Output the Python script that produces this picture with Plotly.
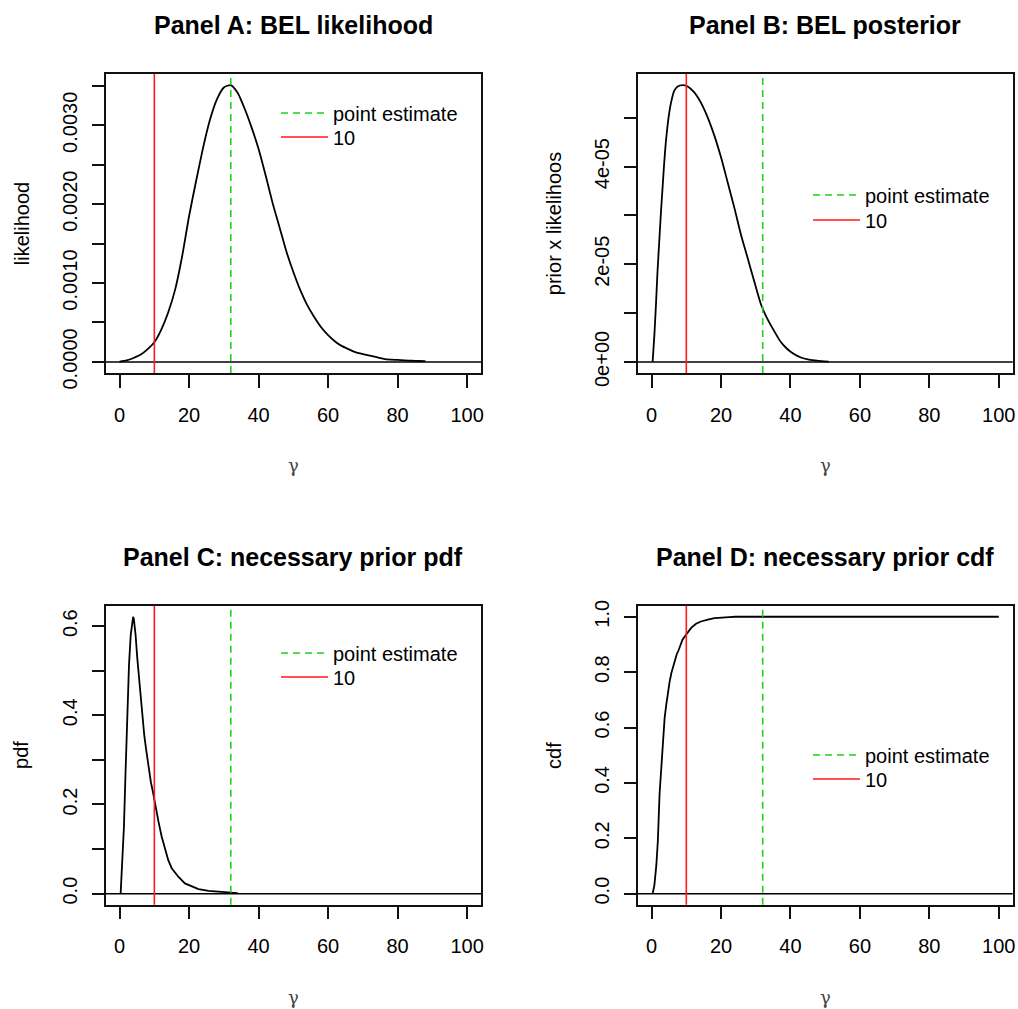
import plotly.graph_objects as go

# ---------------- data ----------------
gamma_A = [0, 2, 4, 6, 8, 10, 12, 14, 16, 18, 20, 22, 24, 26, 28, 30, 32, 34, 36, 38,
           40, 42, 44, 46, 48, 50, 52, 54, 56, 58, 60, 62, 64, 66, 68, 70, 72, 74, 76,
           78, 80, 82, 84, 86, 88]
likelihood_A = [0.000005, 0.00002, 0.00005, 0.00009, 0.00016, 0.00025, 0.00041, 0.00063,
                0.00092, 0.00134, 0.00185, 0.00229, 0.00271, 0.00307, 0.00333, 0.00348,
                0.00351, 0.00341, 0.00321, 0.00297, 0.00270, 0.00237, 0.00202, 0.00171,
                0.00140, 0.00114, 0.00091, 0.00072, 0.00057, 0.00044, 0.00034, 0.00026,
                0.00020, 0.00016, 0.00012, 0.00010, 0.00008, 0.00006, 0.00004, 0.00003,
                0.000025, 0.00002, 0.000015, 0.000012, 0.00001]

gamma_B = [0.3, 0.8, 1.25, 1.7, 2.2, 2.7, 3.2, 3.65, 4.1, 4.6, 5.1, 5.6, 6.5, 7.5, 9.0,
           10.4, 12.3, 14.2, 16.2, 18.1, 20.0, 21.9, 23.9, 25.8, 27.7, 29.6, 31.6, 33.5,
           35.4, 37, 39, 41, 43, 45, 47, 49, 51]
posterior_B = [0.0, 0.55e-5, 1.16e-5, 1.84e-5, 2.46e-5, 3.07e-5, 3.61e-5, 4.09e-5, 4.5e-5,
               4.84e-5, 5.11e-5, 5.31e-5, 5.55e-5, 5.64e-5, 5.67e-5, 5.64e-5, 5.52e-5,
               5.31e-5, 5.0e-5, 4.63e-5, 4.19e-5, 3.68e-5, 3.14e-5, 2.59e-5, 2.12e-5,
               1.64e-5, 1.16e-5, 0.86e-5, 0.62e-5, 0.43e-5, 0.27e-5, 0.16e-5, 0.09e-5,
               0.05e-5, 0.03e-5, 0.015e-5, 0.008e-5]

gamma_C = [0.3, 0.5, 1.25, 1.7, 2.2, 2.7, 3.2, 3.65, 3.9, 4.1, 4.6, 5.1, 5.7, 6.15, 6.6,
           7.1, 7.6, 8.1, 8.6, 9.0, 9.6, 10.2, 11.2, 12.1, 13.1, 14.0, 15.0, 16.9, 18.8,
           20.8, 22.7, 25.6, 28.5, 31.3, 33.5, 34.0]
pdf_C = [0.0, 0.03, 0.15, 0.27, 0.415, 0.512, 0.58, 0.616, 0.621, 0.616, 0.58, 0.527,
         0.475, 0.434, 0.389, 0.355, 0.325, 0.296, 0.269, 0.25, 0.228, 0.199, 0.161, 0.128,
         0.098, 0.075, 0.057, 0.038, 0.023, 0.016, 0.010, 0.006, 0.004, 0.002, 0.0015, 0.001]

gamma_D = [0.3, 0.8, 1.35, 1.8, 2.3, 2.8, 3.3, 3.75, 4.2, 4.7, 5.2, 5.7, 6.2, 6.7, 7.2,
           7.8, 8.3, 8.9, 9.6, 10.4, 11.4, 12.8, 14.2, 16.2, 18.1, 22.4, 24, 100]
cdf_D = [0.0, 0.03, 0.10, 0.19, 0.36, 0.465, 0.56, 0.634, 0.68, 0.73, 0.766, 0.797, 0.82,
         0.845, 0.863, 0.88, 0.90, 0.917, 0.93, 0.945, 0.96, 0.975, 0.983, 0.99, 0.995,
         0.999, 1.0, 1.0]

point_estimate = 32
reference_value = 10
legend_labels = ["point estimate", "10"]

panel_titles = ["Panel A: BEL likelihood", "Panel B: BEL posterior",
                "Panel C: necessary prior pdf", "Panel D: necessary prior cdf"]
y_titles = ["likelihood", "prior x likelihoos", "pdf", "cdf"]
x_title = "\u03b3"

x_tickvals = [0, 20, 40, 60, 80, 100]
x_ticktext = ["0", "20", "40", "60", "80", "100"]
y_tickvals_A = [0, 0.0005, 0.0010, 0.0015, 0.0020, 0.0025, 0.0030, 0.0035]
y_ticktext_A = ["0.0000", "", "0.0010", "", "0.0020", "", "0.0030", ""]
y_tickvals_B = [0, 1e-5, 2e-5, 3e-5, 4e-5, 5e-5]
y_ticktext_B = ["0e+00", "", "2e-05", "", "4e-05", ""]
y_tickvals_C = [0, 0.1, 0.2, 0.3, 0.4, 0.5, 0.6]
y_ticktext_C = ["0.0", "", "0.2", "", "0.4", "", "0.6"]
y_tickvals_D = [0, 0.2, 0.4, 0.6, 0.8, 1.0]
y_ticktext_D = ["0.0", "0.2", "0.4", "0.6", "0.8", "1.0"]

# ---------------- layout helpers ----------------
W, H = 1018, 1009
FONT = "Liberation Sans, Arial, Helvetica, sans-serif"
GREEN = "#1ed41e"
RED = "#ff1a1a"


def px_x(v):
    return v / W


def px_y(v):
    return 1 - v / H


# plot boxes in page pixels: (left, right, top, bottom)
boxes = [(105.7, 481.0, 74.0, 373.0), (637.7, 1012.7, 74.0, 373.0),
         (105.7, 481.0, 605.7, 904.7), (637.7, 1012.7, 605.7, 904.7)]

series = [(gamma_A, likelihood_A), (gamma_B, posterior_B), (gamma_C, pdf_C), (gamma_D, cdf_D)]
line_shapes = ["spline", "spline", "linear", "linear"]
y_max = [max(likelihood_A), max(posterior_B), max(pdf_C), max(cdf_D)]
y_ticks = [(y_tickvals_A, y_ticktext_A), (y_tickvals_B, y_ticktext_B),
           (y_tickvals_C, y_ticktext_C), (y_tickvals_D, y_ticktext_D)]
# legend rows: (x of legend left, y centre of first row, y centre of second row)
legend_pos = [(276, 113, 137), (808, 195, 220), (276, 653, 677), (808, 755, 779)]

fig = go.Figure()
layout = dict(
    width=W, height=H,
    margin=dict(l=0, r=0, t=0, b=0, pad=0, autoexpand=False),
    paper_bgcolor="white", plot_bgcolor="white",
    font=dict(family=FONT, size=20, color="black"),
    showlegend=True,
)
annotations = []
shapes = []
legend_count = 0

for i in range(4):
    n = "" if i == 0 else str(i + 1)
    xa, ya = "x" + n, "y" + n
    left, right, top, bottom = boxes[i]
    xs, ys = series[i]
    line = dict(color="black", width=1.8, shape=line_shapes[i])
    if line_shapes[i] == "spline":
        line["smoothing"] = 0.6
    fig.add_trace(go.Scatter(x=xs, y=ys, mode="lines", xaxis=xa, yaxis=ya,
                             line=line, showlegend=False, hoverinfo="skip"))
    ymin, ymax = 0, y_max[i]
    span = ymax - ymin
    layout["xaxis" + n] = dict(
        domain=[px_x(left), px_x(right)], anchor=ya, automargin=False,
        range=[-4, 104], tickmode="array", tickvals=x_tickvals, ticktext=x_ticktext,
        ticks="outside", ticklen=13, tickwidth=1.5, tickcolor="#111",
        showline=True, mirror=True, linecolor="#111", linewidth=1.5,
        showgrid=False, zeroline=False, tickfont=dict(size=20, family=FONT),
        ticklabelstandoff=10,
    )
    layout["yaxis" + n] = dict(
        domain=[px_y(bottom), px_y(top)], anchor=xa, automargin=False,
        range=[ymin - 0.04 * span, ymax + 0.04 * span], tickmode="array",
        tickvals=y_ticks[i][0], ticktext=y_ticks[i][1], tickangle=-90,
        ticks="outside", ticklen=12, tickwidth=1.5, tickcolor="#111",
        showline=True, mirror=True, linecolor="#111", linewidth=1.5,
        showgrid=False, zeroline=False, tickfont=dict(size=20, family=FONT),
        ticklabelstandoff=7,
    )
    # horizontal reference line at 0
    shapes.append(dict(type="line", xref=xa + " domain", yref=ya, x0=0, x1=1, y0=0, y1=0,
                       line=dict(color="black", width=1.5), layer="above"))
    lx, ly1, ly2 = legend_pos[i]
    # one legend per row so the row spacing matches the reference
    for label, xv, col, dash, ly in [(legend_labels[0], point_estimate, GREEN, "7px,5px", ly1),
                                     (legend_labels[1], reference_value, RED, "solid", ly2)]:
        legend_count += 1
        lg = "legend" if legend_count == 1 else "legend" + str(legend_count)
        shapes.append(dict(type="line", xref=xa, yref=ya + " domain", x0=xv, x1=xv,
                           y0=0, y1=1, line=dict(color=col, width=1.6, dash=dash),
                           layer="above", showlegend=True, legend=lg, name=label))
        layout[lg] = dict(x=px_x(lx), y=px_y(ly), xanchor="left", yanchor="middle",
                          bgcolor="rgba(0,0,0,0)", borderwidth=0,
                          font=dict(size=20, family=FONT, color="black"),
                          itemwidth=47, tracegroupgap=0)
    # titles
    cx = (left + right) / 2
    annotations.append(dict(text="<b>" + panel_titles[i] + "</b>", xref="paper", yref="paper",
                            x=px_x(cx), y=px_y(top - 49), xanchor="center", yanchor="middle",
                            showarrow=False, font=dict(size=25, family=FONT, color="black")))
    annotations.append(dict(text=y_titles[i], xref="paper", yref="paper",
                            x=px_x(left - 84), y=px_y((top + bottom) / 2),
                            xanchor="center", yanchor="middle", textangle=-90,
                            showarrow=False, font=dict(size=20, family=FONT, color="black")))
    annotations.append(dict(text=x_title, xref="paper", yref="paper",
                            x=px_x(cx), y=px_y(bottom + 93), xanchor="center",
                            yanchor="middle", showarrow=False,
                            font=dict(size=18, family="DejaVu Serif", color="#444")))

layout["annotations"] = annotations
layout["shapes"] = shapes
fig.update_layout(**layout)

# remove the default page margin so the 1018x1009 figure fills the window exactly
fig.write_html("out.html", config={"displayModeBar": False},
               post_script="document.body.style.margin='0';"
                           "document.documentElement.style.overflow='hidden';")
